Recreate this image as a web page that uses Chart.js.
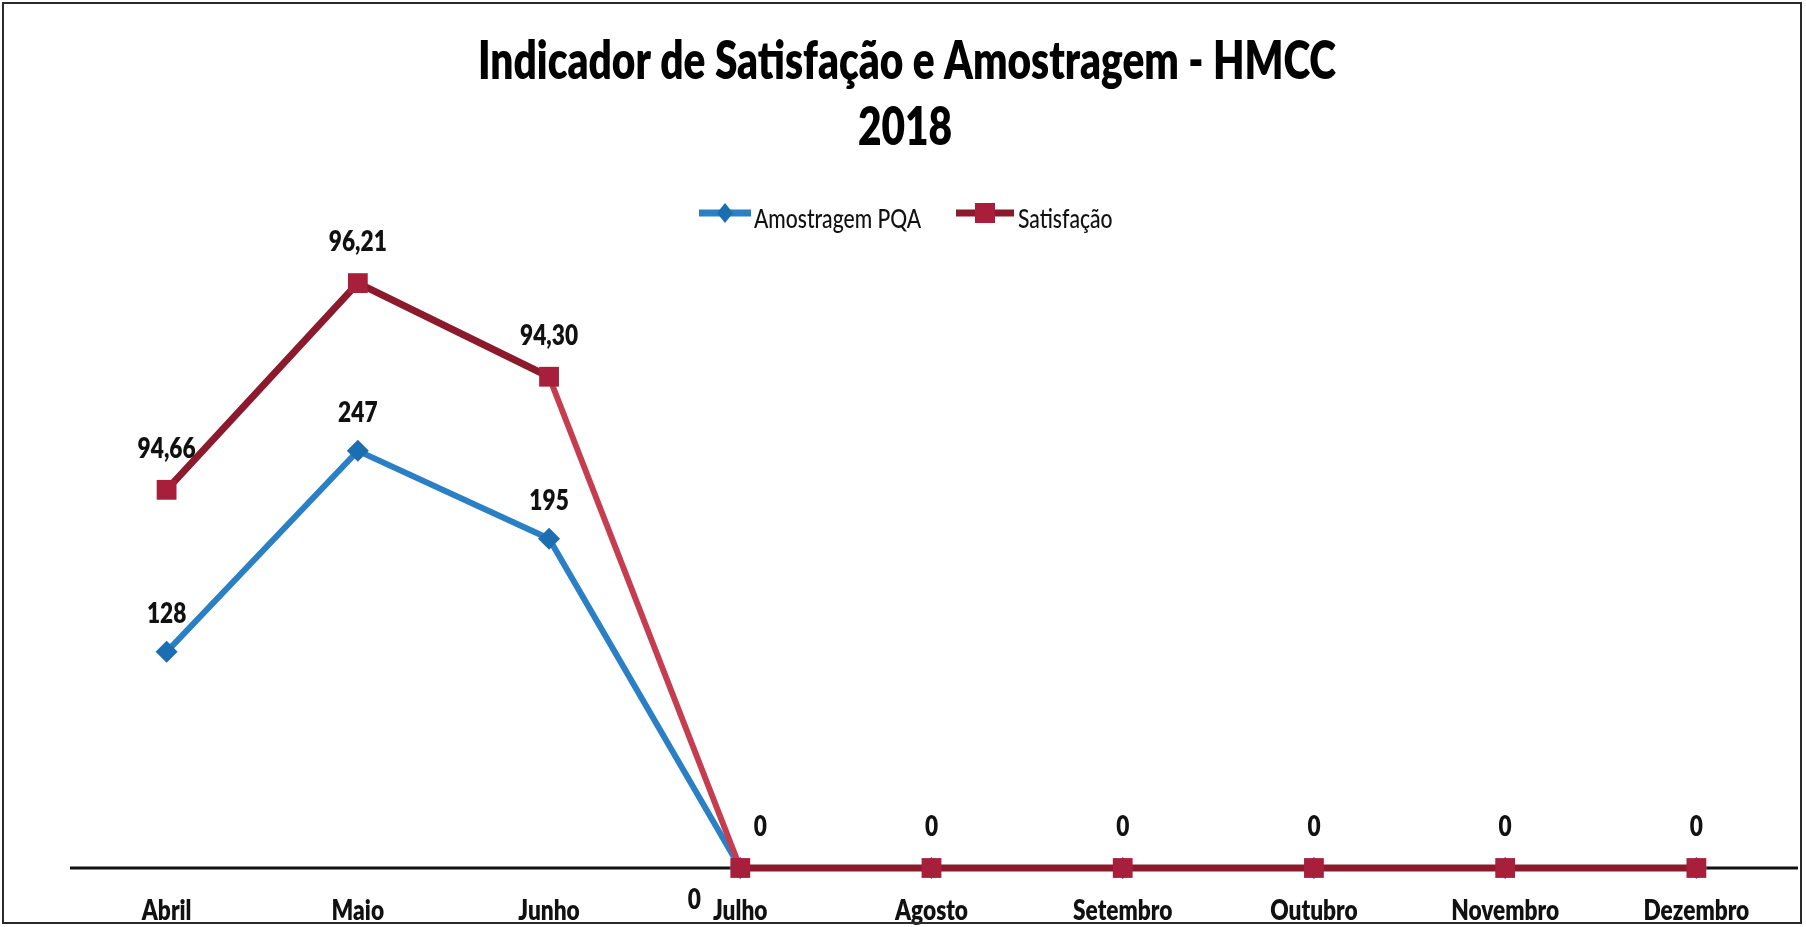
<!DOCTYPE html>
<html>
<head>
<meta charset="utf-8">
<script src="https://cdn.jsdelivr.net/npm/chart.js@4.4.1/dist/chart.umd.min.js"></script>
<style>
    html, body { margin: 0; padding: 0; background: #ffffff; }
    #grafico { display: block; }
</style>
</head>
<body>
<canvas id="grafico" width="1806" height="927"></canvas>
<script>
// Dados do gráfico
const meses = ['Abril', 'Maio', 'Junho', 'Julho', 'Agosto', 'Setembro', 'Outubro', 'Novembro', 'Dezembro'];
const amostragemPQA = [128, 247, 195, 0, 0, 0, 0, 0, 0];
// posição desenhada da série Satisfação (eixo secundário 0-100)
const satisfacao = [62.2, 96.2, 80.8, 0, 0, 0, 0, 0, 0];
const rotulosAmostragem = ['128', '247', '195', '0', '', '', '', '', ''];
const rotulosSatisfacao = ['94,66', '96,21', '94,30', '0', '0', '0', '0', '0', '0'];
const tituloLinhas = ['Indicador de Satisfação e Amostragem - HMCC', '2018'];
const nomesSeries = ['Amostragem PQA', 'Satisfação'];

const azulLinha = '#2b80c5';
const azulMarcador = '#1d6eb0';
const vermelhoLinha = '#8c1a2d';
const vermelhoQueda = '#c63d50';
const vermelhoMarcador = '#a81f3c';
const fonte = 'Lato, "Open Sans", "DejaVu Sans", sans-serif';
const pesoForte = '800';

let aperto = null; // fator de compressão horizontal do texto (fonte estreita)

function escrever(ctx, t, x, y, tam, peso, cor, alinhar) {
    if (!t) return;
    ctx.save();
    ctx.font = `${peso} ${tam}px ${fonte}`;
    ctx.fillStyle = cor;
    ctx.textAlign = alinhar || 'center';
    ctx.textBaseline = 'alphabetic';
    ctx.translate(x, y);
    ctx.scale(aperto, 1);
    ctx.fillText(t, 0, 0);
    ctx.restore();
}

const pluginTextos = {
    id: 'textos',
    beforeDatasetsDraw(chart) {
        const ctx = chart.ctx;
        const y0 = chart.scales.y.getPixelForValue(0);
        ctx.save();
        ctx.strokeStyle = '#111111';
        ctx.lineWidth = 3;
        ctx.beginPath();
        ctx.moveTo(70, y0);
        ctx.lineTo(1798, y0);
        ctx.stroke();
        ctx.restore();
    },
    afterDraw(chart) {
        const ctx = chart.ctx;
        if (aperto === null) {
            ctx.save();
            ctx.font = `${pesoForte} 52px ${fonte}`;
            aperto = 858 / ctx.measureText(tituloLinhas[0]).width;
            ctx.restore();
        }

        // título
        escrever(ctx, tituloLinhas[0], 907, 79, 52, pesoForte, '#000000');
        escrever(ctx, tituloLinhas[1], 905, 145, 52, pesoForte, '#000000');

        // legenda
        ctx.save();
        ctx.lineWidth = 7;
        ctx.strokeStyle = azulLinha;
        ctx.beginPath(); ctx.moveTo(699, 213); ctx.lineTo(751, 213); ctx.stroke();
        ctx.fillStyle = azulMarcador;
        ctx.beginPath();
        ctx.moveTo(725, 203); ctx.lineTo(733, 213); ctx.lineTo(725, 223); ctx.lineTo(717, 213);
        ctx.closePath(); ctx.fill();
        ctx.strokeStyle = vermelhoLinha;
        ctx.beginPath(); ctx.moveTo(956, 213); ctx.lineTo(1014, 213); ctx.stroke();
        ctx.fillStyle = vermelhoMarcador;
        ctx.fillRect(975, 203, 20, 20);
        ctx.restore();
        escrever(ctx, nomesSeries[0], 754, 228, 27, '500', '#111111', 'left');
        escrever(ctx, nomesSeries[1], 1018, 228, 27, '500', '#111111', 'left');

        // rótulos do eixo x
        const x = chart.scales.x;
        meses.forEach((m, i) => {
            escrever(ctx, m, x.getPixelForValue(i), 920, 29, pesoForte, '#111111');
        });

        // rótulos de dados
        const pontosAzuis = chart.getDatasetMeta(1).data;
        const pontosVermelhos = chart.getDatasetMeta(0).data;
        pontosAzuis.forEach((p, i) => {
            if (amostragemPQA[i] === 0) {
                escrever(ctx, rotulosAmostragem[i], p.x - 46, p.y + 41, 29, pesoForte, '#111111');
            } else {
                escrever(ctx, rotulosAmostragem[i], p.x, p.y - 29, 29, pesoForte, '#111111');
            }
        });
        pontosVermelhos.forEach((p, i) => {
            const dx = (satisfacao[i] === 0 && amostragemPQA[i] === 0 && rotulosAmostragem[i]) ? 20 : 0;
            escrever(ctx, rotulosSatisfacao[i], p.x + dx, p.y - 32, 29, pesoForte, '#111111');
        });

        // moldura
        ctx.save();
        ctx.strokeStyle = '#2a2a2a';
        ctx.lineWidth = 2;
        ctx.strokeRect(3, 3, 1798, 920);
        ctx.restore();
    }
};

const ctx = document.getElementById('grafico').getContext('2d');
new Chart(ctx, {
    type: 'line',
    data: {
        labels: meses,
        datasets: [
            {
                label: nomesSeries[1],
                data: satisfacao,
                yAxisID: 'y2',
                order: 0,
                borderColor: vermelhoLinha,
                borderWidth: 7,
                pointStyle: 'rect',
                pointRadius: 14,
                pointBackgroundColor: vermelhoMarcador,
                pointBorderColor: vermelhoMarcador,
                pointBorderWidth: 0,
                tension: 0,
                clip: false,
                segment: {
                    borderColor: c => c.p0DataIndex === 2 ? vermelhoQueda : vermelhoLinha,
                    borderWidth: c => c.p0DataIndex === 2 ? 6 : 7
                }
            },
            {
                label: nomesSeries[0],
                data: amostragemPQA,
                yAxisID: 'y',
                order: 1,
                borderColor: azulLinha,
                borderWidth: 6,
                pointStyle: 'rectRot',
                pointRadius: 11,
                pointBackgroundColor: azulMarcador,
                pointBorderColor: azulMarcador,
                pointBorderWidth: 0,
                tension: 0,
                clip: false
            }
        ]
    },
    options: {
        responsive: false,
        animation: false,
        layout: { padding: { left: 71, right: 5, top: 260, bottom: 59 } },
        plugins: {
            legend: { display: false },
            title: { display: false },
            tooltip: { enabled: false }
        },
        scales: {
            x: { type: 'category', offset: true, display: false },
            y: { min: 0, max: 360, display: false },
            y2: { min: 0, max: 100, display: false, position: 'right' }
        }
    },
    plugins: [pluginTextos]
});
</script>
</body>
</html>
